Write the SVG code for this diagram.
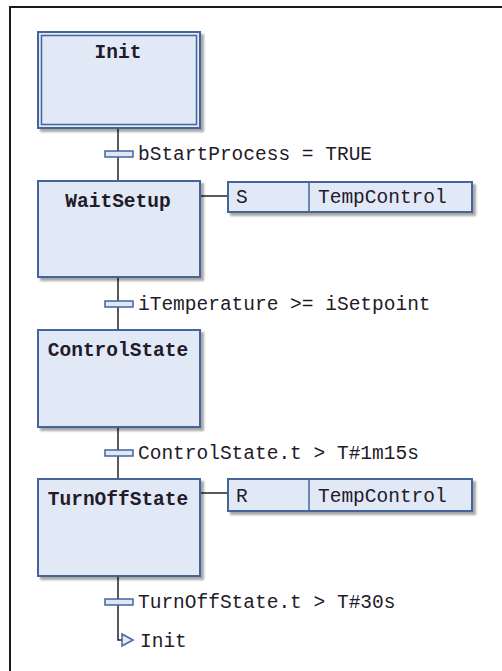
<svg xmlns="http://www.w3.org/2000/svg" width="502" height="671" viewBox="0 0 502 671">
<defs>
<filter id="sh" x="-10%" y="-10%" width="130%" height="130%">
<feGaussianBlur in="SourceAlpha" stdDeviation="1.2"/>
<feOffset dx="3" dy="3" result="b"/>
<feComponentTransfer><feFuncA type="linear" slope="0.35"/></feComponentTransfer>
<feMerge><feMergeNode/><feMergeNode in="SourceGraphic"/></feMerge>
</filter>
</defs>
<style>
.box{fill:#e1e9f6;stroke:#45659a;stroke-width:2}
.inner{fill:none;stroke:#45659a;stroke-width:1.5}
.bar{fill:#dfe7f4;stroke:#45659a;stroke-width:1.5}
.ln{stroke:#222;stroke-width:1.5;fill:none}
.div{stroke:#45659a;stroke-width:1.5}
text{font-family:"Liberation Mono","DejaVu Sans Mono",monospace;font-size:19.5px;fill:#231a2a}
.t{font-weight:bold;text-anchor:middle}
</style>
<rect x="0" y="0" width="502" height="671" fill="#ffffff"/>
<path d="M10,671 V7 H502" fill="none" stroke="#1a1a1a" stroke-width="2"/>

<g id="connectors">
<path class="ln" d="M118,129 V180"/>
<path class="ln" d="M118,278 V329"/>
<path class="ln" d="M118,428 V478"/>
<path class="ln" d="M118,577 V640 H122"/>
<path class="ln" d="M201,196 H227"/>
<path class="ln" d="M201,493 H227"/>
<polygon points="122,634 133,640 122,646" fill="#e1e9f6" stroke="#45659a" stroke-width="1.5"/>
<text x="140" y="647">Init</text>
</g>

<g id="Init">
<rect class="box" x="38" y="32" width="162" height="96" filter="url(#sh)"/>
<rect class="inner" x="41.5" y="35.5" width="155" height="89"/>
<text class="t" x="118" y="58">Init</text>
</g>

<g id="t1">
<rect class="bar" x="105" y="151" width="28" height="6"/>
<text x="138" y="160">bStartProcess = TRUE</text>
</g>

<g id="WaitSetup">
<rect class="box" x="38" y="181" width="162" height="96" filter="url(#sh)"/>
<text class="t" x="118" y="207">WaitSetup</text>
</g>

<g id="action1">
<rect class="box" x="228" y="182" width="244" height="30" filter="url(#sh)"/>
<line class="div" x1="309" y1="182" x2="309" y2="212"/>
<text x="236" y="203">S</text>
<text x="318" y="203">TempControl</text>
</g>

<g id="t2">
<rect class="bar" x="105" y="301" width="28" height="6"/>
<text x="138" y="310">iTemperature &gt;= iSetpoint</text>
</g>

<g id="ControlState">
<rect class="box" x="38" y="330" width="162" height="97" filter="url(#sh)"/>
<text class="t" x="118" y="356">ControlState</text>
</g>

<g id="t3">
<rect class="bar" x="105" y="450" width="28" height="6"/>
<text x="138" y="459">ControlState.t &gt; T#1m15s</text>
</g>

<g id="TurnOffState">
<rect class="box" x="38" y="479" width="162" height="97" filter="url(#sh)"/>
<text class="t" x="118" y="505">TurnOffState</text>
</g>

<g id="action2">
<rect class="box" x="228" y="479" width="244" height="32" filter="url(#sh)"/>
<line class="div" x1="309" y1="479" x2="309" y2="511"/>
<text x="236" y="502">R</text>
<text x="318" y="502">TempControl</text>
</g>

<g id="t4">
<rect class="bar" x="105" y="599" width="28" height="6"/>
<text x="138" y="608">TurnOffState.t &gt; T#30s</text>
</g>
</svg>
